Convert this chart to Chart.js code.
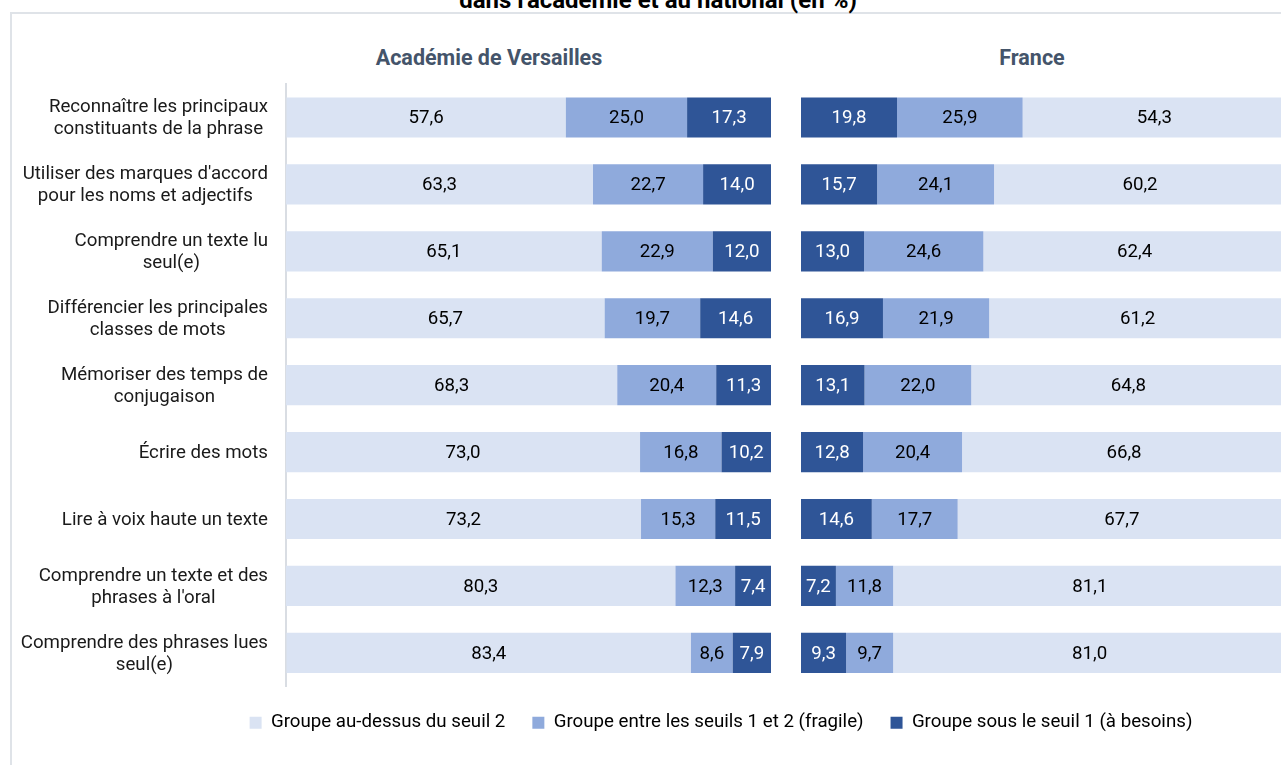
<!DOCTYPE html>
<html lang="fr">
<head>
<meta charset="utf-8">
<script src="https://cdn.jsdelivr.net/npm/chart.js@4.4.1/dist/chart.umd.min.js"></script>
<style>
  html, body { margin: 0; padding: 0; background: #fff; }
  #wrap { position: relative; width: 1281px; height: 765px; overflow: hidden; }
  #frame { position: absolute; left: 10px; top: 12px; width: 1400px; height: 800px; border: 2px solid #dfe3e8; box-sizing: border-box; }
  #heading { position: absolute; left: 658px; top: -12px; transform: translateX(-50%); white-space: nowrap; font: bold 24px/24px Roboto; color: #000; }
  .panel-title { position: absolute; top: 45px; transform: translateX(-50%); white-space: nowrap; font: bold 21.5px Roboto; color: #44546a; }
  #chart { position: absolute; left: 0; top: 0; }
</style>
</head>
<body>
<div id="wrap">
  <div id="frame"></div>
  <div id="heading">dans l'académie et au national (en %)</div>
  <div class="panel-title" style="left:489px">Académie de Versailles</div>
  <div class="panel-title" style="left:1032px">France</div>
  <canvas id="chart" width="1442" height="765"></canvas>
</div>
<script>
// categories (one array per label = lines of the label)
const categories = [
  ["Reconnaître les principaux", "constituants de la phrase"],
  ["Utiliser des marques d'accord", "pour les noms et adjectifs"],
  ["Comprendre un texte lu", "seul(e)"],
  ["Différencier les principales", "classes de mots"],
  ["Mémoriser des temps de", "conjugaison"],
  ["Écrire des mots"],
  ["Lire à voix haute un texte"],
  ["Comprendre un texte et des", "phrases à l'oral"],
  ["Comprendre des phrases lues", "seul(e)"]
];
const seriesNames = [
  "Groupe au-dessus du seuil 2",
  "Groupe entre les seuils 1 et 2 (fragile)",
  "Groupe sous le seuil 1 (à besoins)"
];

// Académie de Versailles
const versaillesAbove   = [57.6, 63.3, 65.1, 65.7, 68.3, 73.0, 73.2, 80.3, 83.4];
const versaillesFragile = [25.0, 22.7, 22.9, 19.7, 20.4, 16.8, 15.3, 12.3, 8.6];
const versaillesBelow   = [17.3, 14.0, 12.0, 14.6, 11.3, 10.2, 11.5, 7.4, 7.9];

// France
const franceAbove   = [54.3, 60.2, 62.4, 61.2, 64.8, 66.8, 67.7, 81.1, 81.0];
const franceFragile = [25.9, 24.1, 24.6, 21.9, 22.0, 20.4, 17.7, 11.8, 9.7];
const franceBelow   = [19.8, 15.7, 13.0, 16.9, 13.1, 12.8, 14.6, 7.2, 9.3];

const colors = ["#dae3f3", "#8faadc", "#2f5597"];
const FONT = "Roboto";
const FONT_SIZE = 18.7;

function makeSet(label, data, color, axis) {
  return {
    label: label,
    data: data,
    backgroundColor: color,
    borderWidth: 0,
    xAxisID: axis,
    stack: "all",
    barPercentage: 0.6,
    categoryPercentage: 1
  };
}

// **Value labels centred in each segment**
const barLabels = {
  id: "barLabels",
  afterDatasetsDraw(chart) {
    const ctx = chart.ctx;
    ctx.save();
    ctx.font = FONT_SIZE + "px " + FONT;
    ctx.textAlign = "center";
    ctx.textBaseline = "middle";
    chart.data.datasets.forEach((ds, i) => {
      chart.getDatasetMeta(i).data.forEach((bar, j) => {
        const p = bar.getProps(["x", "y", "base"], true);
        ctx.fillStyle = ds.backgroundColor === colors[2] ? "#fff" : "#000";
        ctx.fillText(ds.data[j].toFixed(1).replace(".", ","), (p.x + p.base) / 2, p.y + 1);
      });
    });
    ctx.restore();
  }
};

// **Category labels: block right-aligned, lines centred inside it**
const categoryLabels = {
  id: "categoryLabels",
  afterDraw(chart) {
    const scale = chart.scales.y;
    const ctx = chart.ctx;
    const right = scale.right - 18;
    const lineHeight = 22;
    ctx.save();
    ctx.font = FONT_SIZE + "px " + FONT;
    ctx.fillStyle = "#1a1a1a";
    ctx.textAlign = "center";
    ctx.textBaseline = "middle";
    categories.forEach((lines, i) => {
      const w = Math.max(...lines.map(l => ctx.measureText(l).width));
      const cy = scale.getPixelForValue(i);
      lines.forEach((line, k) => {
        ctx.fillText(line, right - w / 2, cy + 1 + (k - (lines.length - 1) / 2) * lineHeight);
      });
    });
    ctx.restore();
  }
};

function hiddenAxis(weight, stackWeight, extra) {
  return Object.assign({
    type: "linear",
    position: "bottom",
    display: false,
    stack: "panels",
    weight: weight,
    stackWeight: stackWeight,
    min: 0,
    max: 100
  }, extra || {});
}

new Chart(document.getElementById("chart"), {
  type: "bar",
  data: {
    labels: categories,
    datasets: [
      makeSet(seriesNames[2], versaillesBelow, colors[2], "xv"),
      makeSet(seriesNames[1], versaillesFragile, colors[1], "xv"),
      makeSet(seriesNames[0], versaillesAbove, colors[0], "xv"),
      makeSet(seriesNames[2], franceBelow, colors[2], "xf"),
      makeSet(seriesNames[1], franceFragile, colors[1], "xf"),
      makeSet(seriesNames[0], franceAbove, colors[0], "xf")
    ]
  },
  options: {
    indexAxis: "y",
    responsive: false,
    animation: false,
    layout: { padding: { top: 84, bottom: 23, left: 0, right: 0 } },
    scales: {
      y: {
        type: "category",
        offset: true,
        grid: { display: false },
        border: { display: true, color: "#d9dde3", width: 2 },
        ticks: { display: false },
        afterFit(s) { s.width = 286; }
      },
      xv: hiddenAxis(1, 485, { stacked: true, reverse: true }),
      xgap: hiddenAxis(2, 30),
      xf: hiddenAxis(3, 485, { stacked: true }),
      xpad: hiddenAxis(4, 156)
    },
    plugins: {
      legend: {
        position: "bottom",
        reverse: true,
        labels: {
          filter: (item) => item.datasetIndex >= 3,
          boxWidth: 12,
          boxHeight: 12,
          padding: 27,
          color: "#000",
          font: { family: FONT, size: FONT_SIZE }
        }
      },
      tooltip: { enabled: false }
    }
  },
  plugins: [barLabels, categoryLabels]
});
</script>
</body>
</html>
